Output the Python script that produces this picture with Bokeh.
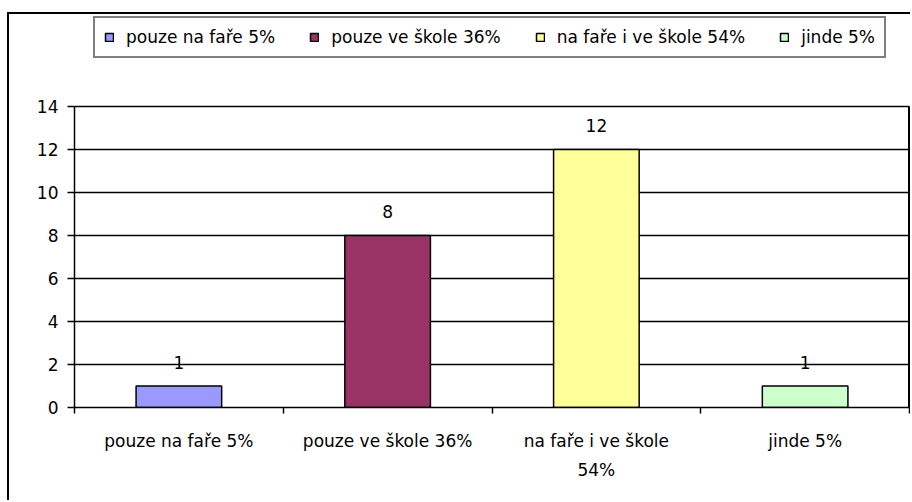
from bokeh.plotting import figure
from bokeh.models import ColumnDataSource, Range1d, FixedTicker, Legend, LegendItem, LinearAxis
from bokeh.core.properties import value
from bokeh.embed import file_html
from bokeh.resources import INLINE

categories = ["pouze na faře 5%", "pouze ve škole 36%", "na faře i ve škole 54%", "jinde 5%"]
axis_labels = ["pouze na faře 5%", "pouze ve škole 36%", "na faře i ve škole\n54%", "jinde 5%"]
counts = [1, 8, 12, 1]
colors = ["#9999FF", "#993366", "#FFFF99", "#CCFFCC"]
y_ticks = [0, 2, 4, 6, 8, 10, 12, 14]

FONT = "DejaVu Sans"
FS = "17px"

n = len(categories)
y_max = max(y_ticks)
# plot frame extends above the value axis to hold the legend (room = 392 px vs 301 px for 0..14)
y_top = y_max * 392 / 301

positions = [i + 0.5 for i in range(n)]
source = ColumnDataSource(dict(x=positions, top=counts, color=colors,
                               label=categories, text=[str(c) for c in counts]))

p = figure(width=903, height=488, output_backend="svg", toolbar_location=None,
           x_range=Range1d(0, n), y_range=Range1d(0, y_top),
           min_border_left=65, min_border_right=3, min_border_top=1, min_border_bottom=95)
p.styles = {"border-left": "2px solid black", "border-top": "2px solid black",
            "margin-left": "7px", "margin-top": "12px"}
p.background_fill_color = "white"
p.border_fill_color = "white"
p.outline_line_color = None

# right edge of the plot area (category axis end, value range 0..max)
p.segment(x0=[n], y0=[0], x1=[n], y1=[y_max], line_color="black", line_width=3)

bars = p.vbar(x="x", top="top", width=0.41, fill_color="color", line_color="black",
              line_width=1.5, source=source)

p.text(x="x", y="top", text="text", source=source, text_align="center",
       text_baseline="alphabetic", y_offset=-24, text_font=value(FONT),
       text_font_size=FS, text_color="black")

# x axis
xa = p.xaxis[0]
xa.ticker = FixedTicker(ticks=positions, minor_ticks=list(range(n + 1)))
xa.major_label_overrides = {pos: lbl for pos, lbl in zip(positions, axis_labels)}
xa.major_tick_out = 0
xa.major_tick_in = 0
xa.minor_tick_out = 6
xa.minor_tick_in = 0
xa.minor_tick_line_color = "black"
xa.minor_tick_line_width = 1.5
xa.axis_line_color = "black"
xa.axis_line_width = 1.5
xa.major_label_standoff = 17
xa.major_label_text_font = FONT
xa.major_label_text_font_size = FS
xa.major_label_text_color = "black"
xa.major_label_text_line_height = 1.45

# y axis
ya = p.yaxis[0]
ya.ticker = FixedTicker(ticks=y_ticks)
ya.bounds = (0, y_max)
ya.major_tick_out = 7
ya.major_tick_in = 0
ya.major_tick_line_color = "black"
ya.major_tick_line_width = 1.5
ya.minor_tick_out = 0
ya.minor_tick_in = 0
ya.axis_line_color = "black"
ya.axis_line_width = 1.5
ya.major_label_standoff = 9
ya.major_label_text_font = FONT
ya.major_label_text_font_size = FS
ya.major_label_text_color = "black"

# right border of the plot area
ra = LinearAxis(ticker=FixedTicker(ticks=[0, y_max]), bounds=(0, y_max),
                major_label_overrides={0: "", y_max: ""},
                major_tick_out=0, major_tick_in=0, minor_tick_out=0, minor_tick_in=0,
                major_label_standoff=0, axis_line_color="black", axis_line_width=1.5)
p.add_layout(ra, "right")

p.xgrid.visible = False
p.ygrid.ticker = FixedTicker(ticks=y_ticks)
p.ygrid.grid_line_color = "black"
p.ygrid.grid_line_width = 1.5

# legend
items = [LegendItem(label=lbl, renderers=[bars], index=i) for i, lbl in enumerate(categories)]
lg = Legend(items=items, orientation="horizontal", location=(19, 349))
lg.label_text_font = FONT
lg.label_text_font_size = FS
lg.label_text_color = "black"
lg.glyph_width = 10
lg.glyph_height = 10
lg.label_standoff = 12
lg.spacing = 34
lg.padding = 9
lg.label_height = 20
lg.border_line_color = "black"
lg.border_line_width = 2
lg.background_fill_color = "white"
lg.background_fill_alpha = 1
lg.margin = 0
p.add_layout(lg)

open("out.html", "w").write(file_html(p, INLINE))
